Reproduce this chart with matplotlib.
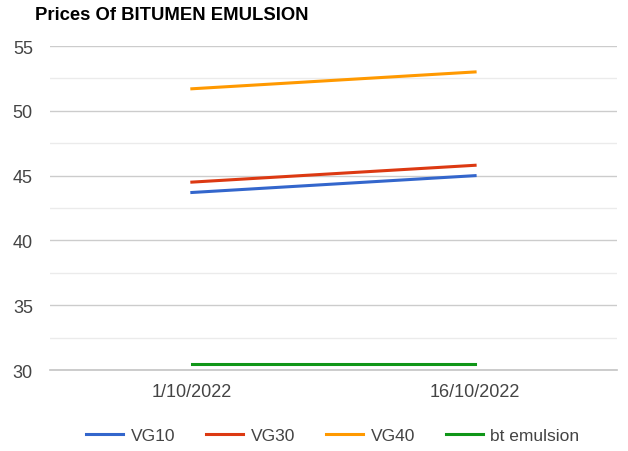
import matplotlib.pyplot as plt
from matplotlib.ticker import MultipleLocator

dates = ['1/10/2022', '16/10/2022']
vg10 = [43.7, 45.0]
vg30 = [44.5, 45.8]
vg40 = [51.7, 53.0]
bt_emulsion = [30.5, 30.5]

plt.rcParams['font.family'] = ['Liberation Sans', 'DejaVu Sans']

fig = plt.figure(figsize=(6.28, 4.52), dpi=100)
ax = fig.add_axes([0.08, 0.179, 0.902, 0.717])

x = range(len(dates))
ax.plot(x, vg10, color='#3366cc', lw=2.2, label='VG10')
ax.plot(x, vg30, color='#dc3912', lw=2.2, label='VG30')
ax.plot(x, vg40, color='#ff9900', lw=2.2, label='VG40')
ax.plot(x, bt_emulsion, color='#109618', lw=2.2, label='bt emulsion')

ax.set_xlim(-0.5, 1.5)
ax.set_ylim(30, 55)
ax.set_xticks(list(x))
ax.set_xticklabels(dates)
ax.yaxis.set_major_locator(MultipleLocator(5))
ax.yaxis.set_minor_locator(MultipleLocator(2.5))
ax.grid(axis='y', which='major', color='#cccccc', lw=1)
ax.grid(axis='y', which='minor', color='#ebebeb', lw=1)
ax.axhline(30, color='#c4c4c4', lw=1.2, clip_on=False, zorder=0.5)
ax.set_axisbelow(True)
for s in ax.spines.values():
    s.set_visible(False)
ax.tick_params(which='both', length=0, labelsize=13, colors='#444444')
ax.tick_params(axis='y', pad=12.5)
ax.tick_params(axis='x', pad=9)

fig.text(0.056, 0.985, 'Prices Of BITUMEN EMULSION', fontsize=13.3,
         fontweight='bold', va='top', ha='left')

fig.legend(loc='center', bbox_to_anchor=(0.53, 0.035), ncol=4,
           frameon=False, fontsize=12.5, handlelength=2.1, handletextpad=0.45,
           columnspacing=1.8, labelcolor='#444444')

fig.savefig('out.png', dpi=100)
